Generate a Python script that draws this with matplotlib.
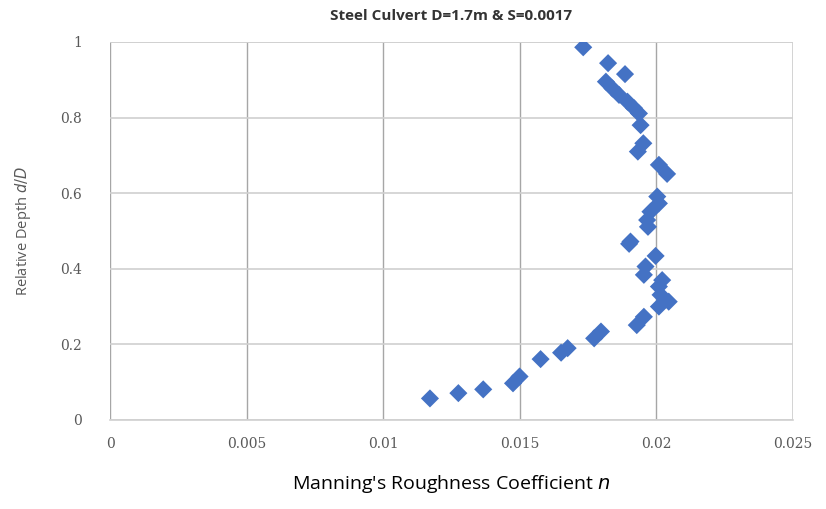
import matplotlib.pyplot as plt

# Manning's n vs relative depth
n_values = [0.01732, 0.01823, 0.01885, 0.01815, 0.01839, 0.01863, 0.01894,
            0.01918, 0.01936, 0.01942, 0.01952, 0.01932, 0.02009, 0.02039,
            0.02003, 0.02009, 0.01978, 0.01966, 0.01969, 0.01900, 0.01905,
            0.01997, 0.01960, 0.01954, 0.02021, 0.02009, 0.02015, 0.02045,
            0.02009, 0.01954, 0.01928, 0.01797, 0.01772, 0.01675, 0.01651,
            0.01576, 0.01499, 0.01475, 0.01366, 0.01275, 0.01171]
rel_depth = [0.986, 0.944, 0.915, 0.895, 0.877, 0.860, 0.842,
             0.825, 0.811, 0.780, 0.732, 0.710, 0.675, 0.651,
             0.591, 0.573, 0.551, 0.529, 0.511, 0.466, 0.472,
             0.434, 0.406, 0.384, 0.370, 0.353, 0.331, 0.313,
             0.300, 0.273, 0.251, 0.234, 0.216, 0.190, 0.178,
             0.161, 0.115, 0.097, 0.081, 0.071, 0.057]

x_ticks = [0, 0.005, 0.01, 0.015, 0.02, 0.025]
x_labels = ["0", "0.005", "0.01", "0.015", "0.02", "0.025"]
y_ticks = [0, 0.2, 0.4, 0.6, 0.8, 1]
y_labels = ["0", "0.2", "0.4", "0.6", "0.8", "1"]

fig = plt.figure(figsize=(8.26, 5.09), dpi=100)
ax = fig.add_axes([0.1332, 0.1749, 0.8269, 0.7426])

ax.scatter(n_values, rel_depth, marker="D", s=85, color="#4472C4",
           edgecolors="none", zorder=3)

ax.set_xlim(0, 0.025)
ax.set_ylim(0, 1)
ax.set_xticks(x_ticks)
ax.set_xticklabels(x_labels, family="DejaVu Serif", fontsize=10, color="#595959")
ax.set_yticks(y_ticks)
ax.set_yticklabels(y_labels, family="DejaVu Serif", fontsize=10, color="#595959")
ax.tick_params(axis="x", length=0, pad=12)
ax.tick_params(axis="y", length=0, pad=20)

ax.grid(True, axis="x", color="#a6a6a6", linewidth=1)
ax.grid(True, axis="y", color="#d0d0d0", linewidth=1.2)
ax.set_axisbelow(True)
for side in ["top", "right", "left"]:
    ax.spines[side].set_visible(False)
ax.spines["bottom"].set_color("#d0d0d0")
ax.spines["bottom"].set_linewidth(1.2)
ax.plot([0.025, 0.025], [0, 1], color="#d0d0d0", linewidth=1.2, zorder=1)
ax.plot([0, 0.025], [1, 1], color="#d0d0d0", linewidth=1.2, zorder=1)

ax.set_title("Steel Culvert D=1.7m & S=0.0017", fontsize=11, fontweight="bold",
             family="Open Sans", color="#333333", pad=16)
ax.set_xlabel("Manning's Roughness Coefficient $n$", fontsize=14,
              family="Open Sans", labelpad=16)
ax.set_ylabel("Relative Depth $d/D$", fontsize=10.5, family="Open Sans",
              color="#595959", labelpad=20)

plt.savefig("out.png", dpi=100)
